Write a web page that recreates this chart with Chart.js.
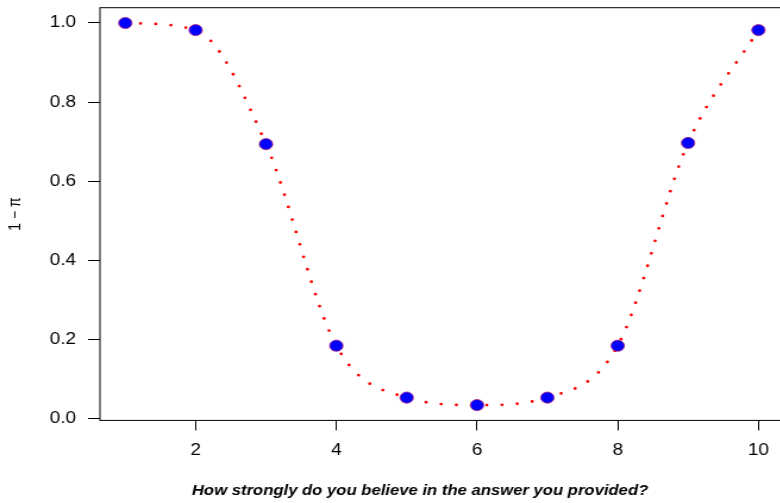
<!DOCTYPE html>
<html>
<head>
<meta charset="utf-8">
<script src="https://cdn.jsdelivr.net/npm/chart.js@4"></script>
<style>
  html, body { margin: 0; padding: 0; background: #fff; overflow: hidden; width: 780px; height: 503px; }
  #wrap { transform: scaleX(1.19); transform-origin: 0 0; width: 706px; height: 503px; }
</style>
</head>
<body>
<div id="wrap"><canvas id="myChart" width="706" height="503"></canvas></div>
<script>
// confidence levels and 1 - pi at each level
const levels = [1, 2, 3, 4, 5, 6, 7, 8, 9, 10];
const oneMinusPi = [1.0, 0.982, 0.694, 0.185, 0.054, 0.035, 0.054, 0.185, 0.697, 0.982];
const xTicks = [2, 4, 6, 8, 10];
const yTicks = [0.0, 0.2, 0.4, 0.6, 0.8, 1.0];
const xLabel = 'How strongly do you believe in the answer you provided?';

const pts = levels.map((x, i) => ({ x: x, y: oneMinusPi[i] }));
const ctx = document.getElementById('myChart');
const sans = 'Liberation Sans, Arial, sans-serif';

// frame around the plotting region + x label centred on the device
const framePlugin = {
  id: 'frame',
  afterDraw(chart) {
    const a = chart.chartArea;
    const c = chart.ctx;
    c.save();
    c.strokeStyle = '#000';
    c.lineWidth = 1;
    c.strokeRect(a.left, a.top, a.right - a.left, a.bottom - a.top);
    c.fillStyle = '#000';
    c.font = 'italic bold 14px ' + sans;
    c.textAlign = 'center';
    c.textBaseline = 'middle';
    c.fillText(xLabel, chart.width / 2, 491);
    c.restore();
  }
};

const tickFont = { family: sans, size: 16 };

new Chart(ctx, {
  type: 'line',
  data: {
    datasets: [{
      data: pts,
      showLine: false,
      pointRadius: 5.6,
      pointHoverRadius: 5.6,
      pointBackgroundColor: '#0000ff',
      pointBorderColor: '#b0207a',
      pointBorderWidth: 0.8,
      order: 0
    }, {
      data: pts,
      borderColor: '#ff0000',
      borderWidth: 2.8,
      borderDash: [0, 12.8],
      borderCapStyle: 'round',
      cubicInterpolationMode: 'monotone',
      pointRadius: 0,
      fill: false,
      order: 1
    }]
  },
  options: {
    responsive: false,
    animation: false,
    devicePixelRatio: 1,
    layout: { autoPadding: false, padding: { top: 7.7, right: 47.4, left: 0, bottom: 0 } },
    plugins: {
      legend: { display: false },
      tooltip: { enabled: false }
    },
    scales: {
      x: {
        type: 'linear',
        min: 0.64,
        max: 10.36,
        afterBuildTicks: s => { s.ticks = xTicks.map(v => ({ value: v })); },
        afterFit: s => { s.height = 82.6; s.paddingLeft = 0; s.paddingRight = 0; },
        grid: { drawOnChartArea: false, tickLength: 10, color: '#000' },
        border: { display: false },
        ticks: { font: tickFont, color: '#000', padding: 11, maxRotation: 0 }
      },
      y: {
        type: 'linear',
        min: -0.0036,
        max: 1.0386,
        afterBuildTicks: s => { s.ticks = yTicks.map(v => ({ value: v })); },
        afterFit: s => { s.width = 84; s.paddingTop = 0; s.paddingBottom = 0; },
        grid: { drawOnChartArea: false, tickLength: 10, color: '#000' },
        border: { display: false },
        ticks: { font: tickFont, color: '#000', padding: 10, callback: v => v.toFixed(1) },
        title: {
          display: true,
          text: '1 \u2212 \u03c0',
          color: '#000',
          font: { family: sans, size: 14, lineHeight: 1.2 },
          padding: { top: 5, bottom: 0 }
        }
      }
    }
  },
  plugins: [framePlugin]
});
</script>
</body>
</html>
